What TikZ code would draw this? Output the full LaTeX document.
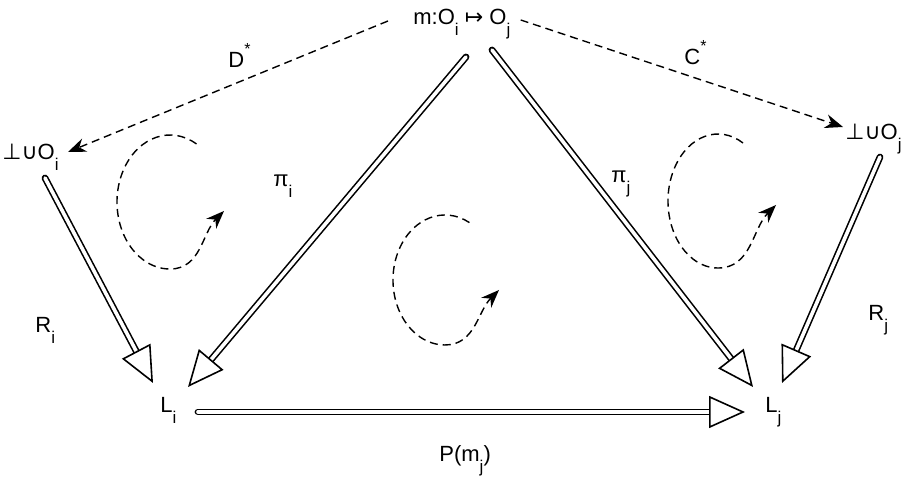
\documentclass[tikz,border=0pt]{standalone}
\usepackage{fontspec}
\setmainfont{Liberation Sans}
\newfontfamily\symfont{DejaVu Sans}
\usetikzlibrary{arrows.meta}

\newcommand{\lowidx}[1]{\raisebox{-5.5pt}{\fontsize{8.5}{9}\selectfont #1}}
\newcommand{\upidx}[1]{\raisebox{6.5pt}{\fontsize{8}{8}\selectfont #1}}

\begin{document}
\begin{tikzpicture}[
    font=\fontsize{11}{13}\selectfont,
    >=Stealth,
    x=0.5pt, y=0.5pt,
    obj/.style={inner sep=0pt, anchor=base west},
    lbl/.style={inner sep=0pt, anchor=base west},
    mapto/.style={double, line width=0.8pt, double distance=1.8pt, line cap=round,
        -{Triangle[fill=white, length=18pt, width=16pt]}},
    partial/.style={dash pattern=on 4pt off 2.5pt, line width=0.7pt, -{Stealth[length=9pt, width=7pt]}},
    commute/.style={dash pattern=on 4pt off 2.5pt, line width=0.7pt, -{Stealth[length=9pt, width=7pt]}}
]
    \useasboundingbox (0,0) rectangle (921,491);

    % objects
    \node[obj] (m)  at (413,466) {m:O\lowidx{i} {\symfont ↦} O\lowidx{j}};
    \node[obj] (Ui) at (2,331)   {{\symfont ⊥∪}O\lowidx{i}};
    \node[obj] (Uj) at (845,351) {{\symfont ⊥∪}O\lowidx{j}};
    \node[obj] (Li) at (160,78)  {L\lowidx{i}};
    \node[obj] (Lj) at (765,78)  {L\lowidx{j}};

    % labels
    \node[lbl] (d)  at (228,423) {D\upidx{*}};
    \node[lbl] (c)  at (684,426) {C\upidx{*}};
    \node[lbl] (pi) at (273,304) {π\lowidx{i}};
    \node[lbl] (pj) at (611,308) {π\lowidx{j}};
    \node[lbl] (ri) at (35,158)  {R\lowidx{i}};
    \node[lbl] (rj) at (868,170) {R\lowidx{j}};
    \node[lbl] (p)  at (439,29)  {P(m\lowidx{j})};

    % partial maps
    \draw[partial] ([shift={(-25,4)}]m.base west) -- ([shift={(66,8)}]Ui.base west);
    \draw[partial] ([shift={(10,5)}]m.base east) -- ([shift={(-2,13)}]Uj.base west);

    % projections and lifts
    \draw[mapto] ([shift={(53,-32)}]m.base west) -- ([shift={(28,26)}]Li.base west);
    \draw[mapto] ([shift={(79,-25)}]m.base west) -- ([shift={(-12,26)}]Lj.base west);
    \draw[mapto] ([shift={(43,-18)}]Ui.base west) -- ([shift={(-7,30)}]Li.base west);
    \draw[mapto] ([shift={(35,-17)}]Uj.base west) -- ([shift={(17,30)}]Lj.base west);
    \draw[mapto] ([shift={(38,1)}]Li.base west) -- ([shift={(-20,1)}]Lj.base west);

    % commuting cells
    \draw[commute] (196.5,347) arc[start angle=60, end angle=270, x radius=53, y radius=67]
        to[out=0, in=225] (224,280);
    \draw[commute] (469.4,268.4) arc[start angle=62, end angle=270, x radius=52, y radius=65]
        to[out=0, in=225] (499,201);
    \draw[commute] (743,348) arc[start angle=60, end angle=270, x radius=50, y radius=67]
        to[out=0, in=225] (776,286);
\end{tikzpicture}
\end{document}
